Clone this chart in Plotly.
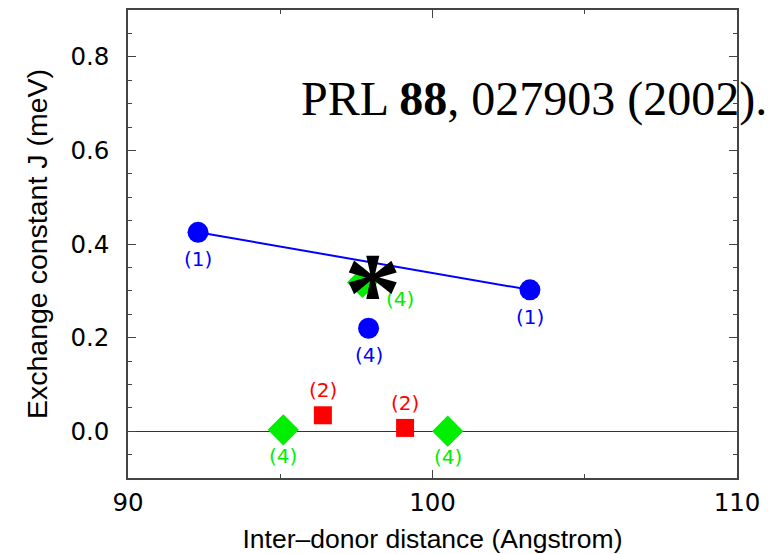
import plotly.graph_objects as go

# Data
fit_x = [92.3, 103.2]
fit_y = [0.425, 0.302]

blue_x = [92.3, 103.2, 97.9]
blue_y = [0.425, 0.302, 0.220]
blue_lab = ["(1)", "(1)", "(4)"]

red_x = [96.4, 99.1]
red_y = [0.034, 0.007]
red_lab = ["(2)", "(2)"]

green_x = [95.1, 100.5]
green_y = [0.003, 0.0]
green_lab = ["(4)", "(4)"]

green_top_x = [97.7]
green_top_y = [0.318]
green_top_lab = ["(4)"]

star_x = [98.04]
star_y = [0.323]

BLUE = "#0000ff"
RED = "#ff0000"
GREEN = "#00ee00"
FONT = "Liberation Sans"
LFONT = "DejaVu Sans"

fig = go.Figure()

fig.add_trace(go.Scatter(x=fit_x, y=fit_y, mode="lines",
                         line=dict(color=BLUE, width=2), hoverinfo="skip"))
fig.add_trace(go.Scatter(x=blue_x, y=blue_y, mode="markers",
                         marker=dict(symbol="circle", size=21, color=BLUE)))
fig.add_trace(go.Scatter(x=red_x, y=red_y, mode="markers",
                         marker=dict(symbol="square", size=18, color=RED)))
fig.add_trace(go.Scatter(x=green_x + green_top_x, y=green_y + green_top_y, mode="markers",
                         marker=dict(symbol="diamond", size=24, color=GREEN)))

annotations = []
for x, y, t in zip(blue_x, blue_y, blue_lab):
    annotations.append(dict(x=x, y=y, text=t, showarrow=False, yshift=-27,
                            font=dict(family=LFONT, size=20, color=BLUE)))
for x, y, t in zip(red_x, red_y, red_lab):
    annotations.append(dict(x=x, y=y, text=t, showarrow=False, yshift=25,
                            font=dict(family=LFONT, size=20, color=RED)))
for x, y, t in zip(green_x, green_y, green_lab):
    annotations.append(dict(x=x, y=y, text=t, showarrow=False, yshift=-26,
                            font=dict(family=LFONT, size=20, color=GREEN)))
for x, y, t in zip(green_top_x, green_top_y, green_top_lab):
    annotations.append(dict(x=x, y=y, text=t, showarrow=False, xshift=38, yshift=-17,
                            font=dict(family=LFONT, size=20, color=GREEN)))
for x, y in zip(star_x, star_y):
    annotations.append(dict(x=x, y=y, text="<b>*</b>", showarrow=False, yshift=-12,
                            font=dict(family="Liberation Serif", size=115, color="black")))

annotations.append(dict(xref="paper", yref="paper", x=0.28, y=0.809, xanchor="left",
                        yanchor="middle", showarrow=False,
                        text="PRL <b>88</b>, 027903 (2002).",
                        font=dict(family="Liberation Serif", size=48, color="black")))

axis_common = dict(showline=True, linecolor="#444", linewidth=1.5, mirror="allticks",
                   ticks="inside", ticklen=8, tickcolor="#444", tickwidth=1,
                   showgrid=False, tickfont=dict(family=LFONT, size=24.5, color="black"))

fig.update_xaxes(range=[90, 110], dtick=10, tick0=90,
                 minor=dict(dtick=5, ticks="inside", ticklen=4, tickcolor="#444", showgrid=False),
                 zeroline=False, ticklabelstandoff=2,
                 title=dict(text="Inter\u2013donor distance (Angstrom)", standoff=14,
                            font=dict(family=FONT, size=26.5, color="black")),
                 **axis_common)
fig.update_yaxes(range=[-0.1, 0.9], dtick=0.2, tick0=0, tickformat=".1f",
                 minor=dict(dtick=0.05, ticks="inside", ticklen=4, tickcolor="#444", showgrid=False),
                 zeroline=True, zerolinecolor="#333", zerolinewidth=1,
                 ticklabelstandoff=12,
                 title=dict(text="Exchange constant J (meV)", standoff=14,
                            font=dict(family=FONT, size=28.5, color="black")),
                 **axis_common)

fig.update_layout(width=781, height=554, showlegend=False,
                  plot_bgcolor="white", paper_bgcolor="white",
                  margin=dict(l=128, r=44, t=10, b=76, autoexpand=False),
                  annotations=annotations)

fig.write_html("out.html")
